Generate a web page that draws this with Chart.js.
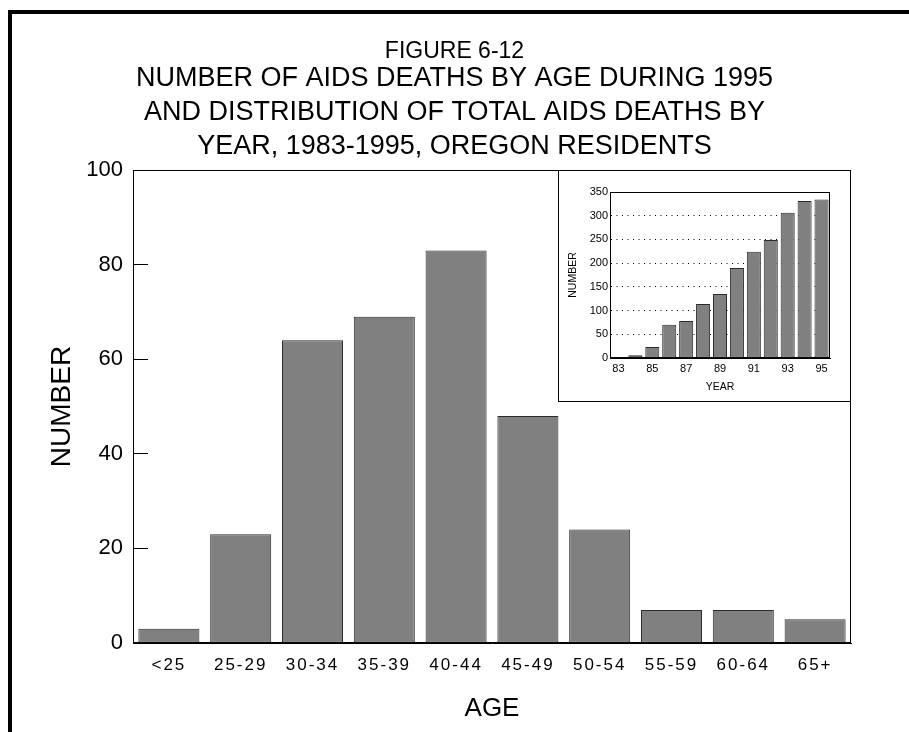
<!DOCTYPE html>
<html>
<head>
<meta charset="utf-8">
<script src="https://cdn.jsdelivr.net/npm/chart.js@4"></script>
<style>
  html, body { margin: 0; padding: 0; background: #fff; }
  #page { position: relative; width: 909px; height: 732px; overflow: hidden; }
  #frame {
    position: absolute; left: 8px; top: 10px; right: 0; bottom: 0;
    border-left: 4px solid #000; border-top: 4px solid #000;
  }
  #mainChart { position: absolute; left: 0; top: 0; }
  #insetBox {
    position: absolute; left: 558px; top: 170px; width: 293px; height: 232px;
    box-sizing: border-box; border: 1px solid #000; background: #fff;
  }
  #insetChart { display: block; }
</style>
</head>
<body>
<div id="page">
  <div id="frame"></div>
  <canvas id="mainChart" width="909" height="732"></canvas>
  <div id="insetBox"><canvas id="insetChart" width="291" height="230"></canvas></div>
</div>
<script>
// --- Datos ---
const ageGroups = ["<25", "25-29", "30-34", "35-39", "40-44", "45-49", "50-54", "55-59", "60-64", "65+"];
const ageDeaths = [3, 23, 64, 69, 83, 48, 24, 7, 7, 5];

const years = ["83", "84", "85", "86", "87", "88", "89", "90", "91", "92", "93", "94", "95"];
const yearDeaths = [2, 6, 23, 70, 78, 114, 135, 190, 224, 249, 306, 331, 334];

const titleTop = "FIGURE 6-12";
const titleLines = [
  "NUMBER OF AIDS DEATHS BY AGE DURING 1995",
  "AND DISTRIBUTION OF TOTAL AIDS DEATHS BY",
  "YEAR, 1983-1995, OREGON RESIDENTS",
];

const FONT = "'Liberation Sans', Arial, sans-serif";
const BAR_FILL = "#808080";
const BAR_EDGE = "#2b2b2b";

// --- caja alrededor del area de trazado ---
const boxPlugin = {
  id: "boxPlugin",
  beforeDatasetsDraw(chart) {
    const { ctx, chartArea: a } = chart;
    ctx.save();
    ctx.strokeStyle = "#000";
    ctx.lineWidth = 1;
    ctx.strokeRect(Math.round(a.left) + 0.5, Math.round(a.top) + 0.5,
      Math.round(a.right - a.left) - 1, Math.round(a.bottom - a.top) - 1);
    ctx.restore();
  },
};

// --- etiquetas del eje x con espaciado entre letras ---
const spacedTicks = {
  id: "spacedTicks",
  beforeDraw(chart) {
    const sc = chart.scales.x;
    if (!sc || sc._spaced) return;
    const orig = sc.drawLabels.bind(sc);
    sc.drawLabels = function (area) {
      const ctx = this.ctx;
      ctx.save();
      ctx.letterSpacing = "2px";
      orig(area);
      ctx.restore();
    };
    sc._spaced = true;
  },
};

// --- Grafico principal ---
function drawMain() {
  const ctx = document.getElementById("mainChart").getContext("2d");
  new Chart(ctx, {
    type: "bar",
    data: {
      labels: ageGroups,
      datasets: [{
        data: ageDeaths,
        backgroundColor: BAR_FILL,
        borderColor: BAR_EDGE,
        borderWidth: 1,
        borderSkipped: false,
        barPercentage: 0.85,
        categoryPercentage: 1,
      }],
    },
    options: {
      responsive: false,
      animation: false,
      layout: { padding: { left: 35, right: 35, top: 14, bottom: 0 } },
      plugins: {
        legend: { display: false },
        tooltip: { enabled: false },
        title: {
          display: true,
          text: titleTop,
          color: "#000",
          font: { family: FONT, size: 23, weight: "normal", lineHeight: "20px" },
          padding: { top: 27.6, bottom: 0 },
        },
        subtitle: {
          display: true,
          text: titleLines,
          color: "#000",
          font: { family: FONT, size: 27, weight: "normal", lineHeight: "34px" },
          padding: { top: 0.4, bottom: 6 },
        },
      },
      scales: {
        x: {
          grid: { display: false, drawTicks: false },
          border: { display: true, color: "#000", width: 1 },
          ticks: { color: "#000", font: { family: FONT, size: 17 }, padding: 12, maxRotation: 0 },
          title: {
            display: true, text: "AGE", color: "#000",
            font: { family: FONT, size: 26 }, padding: { top: 0, bottom: 8 },
          },
          afterFit(s) { s.height = 89; },
        },
        y: {
          min: 0,
          max: 100,
          ticks: { stepSize: 20, color: "#000", font: { family: FONT, size: 22 }, padding: 25 },
          grid: { drawOnChartArea: false, drawTicks: true, tickLength: -15, color: "#000", lineWidth: 1 },
          border: { display: true, color: "#000", width: 1 },
          title: {
            display: true, text: "NUMBER", color: "#000",
            font: { family: FONT, size: 28 }, padding: { top: 10.2, bottom: 0 },
          },
          afterFit(s) { s.width = 98; },
        },
        y2: {
          position: "right",
          grid: { display: false, drawTicks: false },
          border: { display: false },
          ticks: { display: false },
          afterFit(s) { s.width = 23; },
        },
      },
    },
    plugins: [boxPlugin, spacedTicks],
  });
}

// --- Grafico insertado ---
function drawInset() {
  const ctx = document.getElementById("insetChart").getContext("2d");
  new Chart(ctx, {
    type: "bar",
    data: {
      labels: years,
      datasets: [{
        data: yearDeaths,
        backgroundColor: BAR_FILL,
        borderColor: BAR_EDGE,
        borderWidth: 1,
        borderSkipped: false,
        barPercentage: 0.83,
        categoryPercentage: 1,
      }],
    },
    options: {
      responsive: false,
      animation: false,
      layout: { padding: { left: 0, right: 20, top: 21, bottom: 0 } },
      plugins: { legend: { display: false }, tooltip: { enabled: false } },
      scales: {
        x: {
          grid: { display: false, drawTicks: false },
          border: { display: true, color: "#000", width: 1 },
          ticks: {
            color: "#000", font: { family: FONT, size: 11 }, padding: 4,
            autoSkip: false, maxRotation: 0,
            callback: (v, i) => (i % 2 === 0 ? years[i] : ""),
          },
          title: {
            display: true, text: "YEAR", color: "#000",
            font: { family: FONT, size: 10.5 }, padding: { top: 0, bottom: 8 },
          },
          afterFit(s) { s.height = 43; },
        },
        y: {
          min: 0,
          max: 350,
          ticks: { stepSize: 50, color: "#000", font: { family: FONT, size: 11 }, padding: 2 },
          grid: {
            drawTicks: false,
            color: (c) => (c.tick && (c.tick.value === 0 || c.tick.value === 350) ? "rgba(0,0,0,0)" : "#000"),
            lineWidth: 1,
          },
          border: { display: true, color: "#000", width: 1, dash: [1, 4.5] },
          title: {
            display: true, text: "NUMBER", color: "#000",
            font: { family: FONT, size: 10.5 }, padding: { top: 8, bottom: 0 },
          },
          afterFit(s) { s.width = 51; },
        },
      },
    },
    plugins: [boxPlugin],
  });
}

document.addEventListener("DOMContentLoaded", () => {
  drawMain();
  drawInset();
});
</script>
</body>
</html>
